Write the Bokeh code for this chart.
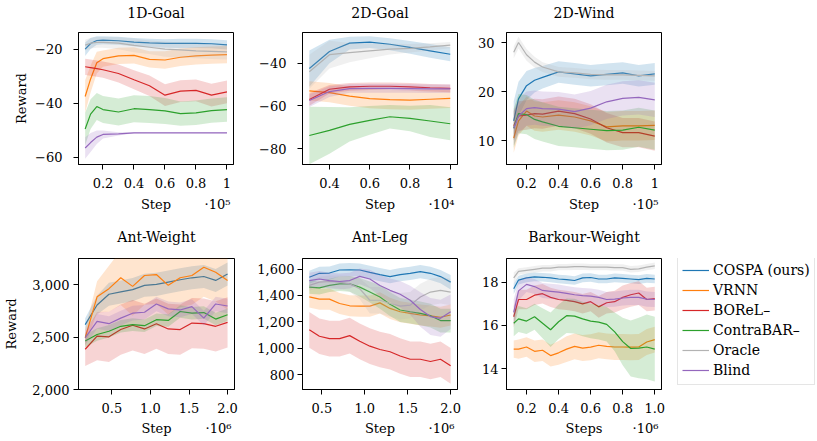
import numpy as np
from bokeh.plotting import figure
from bokeh.layouts import row, column
from bokeh.models import Range1d, FixedTicker, Legend, LegendItem, ColumnDataSource, LinearAxis
from bokeh.embed import file_html
from bokeh.resources import INLINE

FONT = "DejaVu Serif"
METHODS = ["COSPA (ours)", "VRNN", "BOReL\u2013", "ContraBAR\u2013", "Oracle", "Blind"]
COLORS = ["#1f77b4", "#ff7f0e", "#d62728", "#2ca02c", "#b3b3b3", "#9467bd"]

# ---------------- 1D-Goal (step x 1e5) ----------------
g1_x = [0.085, 0.12, 0.16, 0.2, 0.3, 0.4, 0.5, 0.6, 0.7, 0.8, 0.9, 1.0]
g1_cospa = [-20, -17.9, -16.8, -16.7, -16.9, -17.4, -17.7, -17.9, -17.9, -17.9, -18.0, -18.4]
g1_cospa_sd = [2.5, 2, 1.6, 1.5, 1.5, 1.5, 1.5, 1.6, 1.7, 1.7, 1.7, 1.7]
g1_vrnn = [-37.5, -31, -25, -23.5, -22.5, -22.3, -23.8, -24, -23, -22.5, -22.2, -22]
g1_vrnn_sd = [6, 5, 4, 3, 3, 3, 3, 3.2, 3.2, 3.2, 3.2, 3.2]
g1_borel = [-26.5, -26.8, -27.2, -27.6, -29, -31.3, -33.5, -37, -35.5, -35.2, -37, -35.8]
g1_borel_sd = [3, 3, 3, 3, 3.3, 3.5, 3.8, 4, 4, 4, 4.2, 4.2]
g1_contrabar = [-49.5, -44, -41.2, -42.3, -43.2, -42, -42.3, -42.8, -43.8, -43.5, -42.7, -42.3]
g1_contrabar_sd = [6, 5.5, 5, 5, 5, 5, 5, 4.8, 4.5, 4.5, 4.5, 4.5]
g1_oracle = [-18.5, -17.8, -17.5, -17.5, -17.8, -18.6, -19.3, -20, -20.3, -20.6, -20.8, -21]
g1_oracle_sd = [2, 2, 2, 2, 2.2, 2.5, 2.5, 2.8, 2.8, 2.8, 2.8, 2.8]
g1_blind = [-56.5, -54.5, -52.5, -51.5, -51.3, -50.9, -50.9, -50.9, -50.9, -50.9, -50.9, -50.9]
g1_blind_sd = [4, 3.5, 2.5, 1.5, 0.6, 0.2, 0.1, 0.1, 0.1, 0.1, 0.1, 0.1]

# ---------------- 2D-Goal (step x 1e4) ----------------
g2_x = [0.3, 0.4, 0.5, 0.6, 0.7, 0.8, 0.9, 1.0]
g2_cospa = [-42.5, -34.5, -30.6, -30.1, -31.1, -32.6, -34.2, -35.8]
g2_cospa_sd = [8.5, 5.5, 3, 2.8, 2.8, 3, 3.2, 3.3]
g2_vrnn = [-53, -53.8, -55.4, -56.6, -57.1, -57.3, -56.9, -56.5]
g2_vrnn_sd = [4.5, 4.5, 4.5, 4.5, 4.5, 4.5, 4.5, 4.5]
g2_borel = [-57, -52.2, -51.1, -50.8, -50.8, -51.1, -51.5, -51.8]
g2_borel_sd = [3, 2, 1.8, 1.8, 1.8, 1.8, 1.8, 1.8]
g2_contrabar = [-73.9, -71.5, -68.7, -66.8, -65.1, -65.9, -67.1, -68.4]
g2_contrabar_sd = [13.5, 11, 8, 6.7, 5.5, 6, 7.5, 7.7]
g2_oracle = [-44, -36, -35, -34.2, -33.4, -33, -32.3, -31.5]
g2_oracle_sd = [8, 6.5, 4.5, 3.5, 2.5, 2, 1.7, 1.5]
g2_blind = [-57.5, -53.3, -51.9, -51.8, -51.8, -51.9, -52, -52]
g2_blind_sd = [3, 2.5, 2, 2, 2, 2, 2, 2]

# ---------------- 2D-Wind (step x 1e5) ----------------
w_x = [0.12, 0.15, 0.2, 0.25, 0.3, 0.4, 0.5, 0.6, 0.7, 0.8, 0.9, 1.0]
w_cospa = [14, 18.5, 21.2, 22.3, 22.9, 24, 23.6, 23.2, 23.5, 23.8, 23.2, 23.6]
w_cospa_sd = [4, 3.5, 3, 2.5, 2.3, 2.2, 2.2, 2.2, 2.2, 2.2, 2.2, 2.2]
w_vrnn = [10.5, 14, 16, 15, 14.8, 15.2, 14.8, 14, 12.8, 13, 13, 13.1]
w_vrnn_sd = [3, 3, 3, 3, 3, 3, 3, 3, 3, 3, 3, 3]
w_borel = [13, 15, 15.2, 15.5, 15.4, 16, 15.5, 14.4, 12.6, 11.6, 11.6, 10.9]
w_borel_sd = [3, 3, 3, 3, 3, 3, 3, 3, 3, 3, 3, 3]
w_contrabar = [12.5, 15.5, 15.3, 14.3, 13.8, 12.9, 12.6, 12.3, 12.0, 12.1, 12.7, 12.1]
w_contrabar_sd = [4, 4, 4, 4, 4, 4, 4, 4, 4, 4, 4, 4]
w_oracle = [28, 30, 27.5, 26, 25, 24, 23.8, 23.5, 23.4, 23.4, 23.3, 23.2]
w_oracle_sd = [1.2, 1.2, 1.2, 1.1, 1, 1, 1, 1, 1, 1, 1, 1]
w_blind = [12.5, 15, 16.5, 16.7, 16.5, 16.4, 15.9, 16.6, 17.9, 18.6, 18.8, 18.3]
w_blind_sd = [3.5, 3.5, 3.5, 3.5, 3.5, 3.5, 3.5, 3.5, 3.5, 3.5, 3.5, 3.5]

# ---------------- Ant-Weight (step x 1e6) ----------------
aw_x = [0.154, 0.308, 0.462, 0.615, 0.769, 0.923, 1.077, 1.231, 1.385, 1.538, 1.692, 1.846, 2.0]
aw_cospa = [2619, 2806, 2909, 2931, 2953, 2994, 3003, 3025, 3047, 3066, 3078, 3041, 3103]
aw_cospa_sd = [60, 90, 110, 110, 110, 110, 110, 110, 110, 110, 110, 110, 110]
aw_vrnn = [2494, 2884, 2962, 3066, 2984, 3088, 3097, 2994, 3066, 3088, 3166, 3119, 3041]
aw_vrnn_sd = [80, 150, 220, 260, 280, 280, 280, 280, 280, 280, 280, 280, 280]
aw_borel = [2384, 2509, 2503, 2572, 2613, 2578, 2628, 2578, 2572, 2634, 2628, 2603, 2641]
aw_borel_sd = [160, 230, 240, 240, 240, 240, 240, 240, 240, 240, 240, 240, 240]
aw_contrabar = [2463, 2525, 2556, 2603, 2619, 2609, 2666, 2659, 2744, 2728, 2734, 2672, 2713]
aw_contrabar_sd = [60, 60, 60, 60, 60, 60, 60, 60, 60, 60, 60, 60, 60]
aw_blind = [2494, 2650, 2628, 2681, 2728, 2737, 2816, 2769, 2759, 2791, 2681, 2816, 2797]
aw_blind_sd = [70, 70, 70, 70, 70, 70, 70, 70, 70, 70, 70, 70, 70]

# ---------------- Ant-Leg (step x 1e6) ----------------
al_x = [0.353, 0.471, 0.588, 0.706, 0.824, 0.941, 1.059, 1.176, 1.294, 1.412, 1.529, 1.647, 1.765, 1.882, 2.0]
al_cospa = [1538, 1568, 1570, 1593, 1595, 1593, 1575, 1558, 1543, 1558, 1568, 1580, 1568, 1543, 1501]
al_cospa_sd = [50, 50, 50, 50, 50, 50, 50, 50, 50, 50, 50, 50, 50, 50, 55]
al_vrnn = [1389, 1372, 1372, 1339, 1322, 1319, 1319, 1344, 1302, 1277, 1265, 1252, 1245, 1235, 1252]
al_vrnn_sd = [80, 80, 80, 80, 80, 80, 80, 80, 80, 80, 80, 80, 80, 80, 80]
al_borel = [1140, 1091, 1073, 1073, 1096, 1053, 1016, 991, 974, 942, 917, 917, 900, 917, 867]
al_borel_sd = [135, 135, 135, 135, 135, 135, 135, 135, 135, 135, 135, 135, 135, 135, 135]
al_contrabar = [1463, 1458, 1476, 1488, 1488, 1463, 1426, 1389, 1334, 1290, 1277, 1265, 1247, 1210, 1210]
al_contrabar_sd = [50, 50, 50, 55, 60, 70, 80, 90, 90, 90, 90, 90, 90, 90, 90]
al_oracle = [1476, 1501, 1506, 1501, 1488, 1451, 1364, 1364, 1339, 1319, 1327, 1389, 1426, 1439, 1426]
al_oracle_sd = [40, 40, 45, 50, 60, 80, 100, 100, 100, 100, 100, 100, 100, 100, 100]
al_blind = [1513, 1525, 1513, 1506, 1513, 1545, 1525, 1476, 1439, 1409, 1364, 1294, 1240, 1227, 1277]
al_blind_sd = [60, 60, 60, 60, 60, 60, 70, 80, 90, 100, 110, 130, 140, 140, 130]

# ---------------- Barkour-Weight (steps x 1e6) ----------------
bw_x = [0.12, 0.15, 0.2, 0.25, 0.3, 0.35, 0.4, 0.45, 0.5, 0.55, 0.6, 0.65, 0.7, 0.75, 0.8, 0.85, 0.9, 0.95, 1.0]
bw_cospa = [17.7, 18.1, 18.2, 18.25, 18.23, 18.2, 18.15, 18.12, 18.08, 18.2, 18.22, 18.15, 18.15, 18.2, 18.18, 18.15, 18.12, 18.18, 18.15]
bw_cospa_sd = [0.25, 0.2, 0.2, 0.2, 0.2, 0.2, 0.2, 0.2, 0.2, 0.2, 0.2, 0.2, 0.2, 0.2, 0.2, 0.2, 0.2, 0.2, 0.2]
bw_vrnn = [14.9, 14.9, 15.0, 14.8, 14.85, 14.6, 14.73, 14.9, 15.03, 14.95, 14.99, 15.08, 15.03, 15.0, 15.0, 14.99, 15.0, 15.23, 15.34]
bw_vrnn_sd = [0.4, 0.45, 0.45, 0.5, 0.5, 0.5, 0.55, 0.6, 0.6, 0.6, 0.6, 0.6, 0.6, 0.6, 0.6, 0.6, 0.6, 0.6, 0.6]
bw_borel = [16.4, 17.2, 17.2, 17.4, 17.47, 17.3, 17.2, 17.16, 17.1, 17.0, 17.1, 16.86, 17.05, 17.1, 17.3, 17.42, 17.5, 17.2, 17.24]
bw_borel_sd = [0.5, 0.45, 0.45, 0.45, 0.45, 0.45, 0.45, 0.45, 0.45, 0.45, 0.45, 0.5, 0.5, 0.5, 0.55, 0.55, 0.55, 0.55, 0.55]
bw_contrabar = [16.1, 16.3, 16.2, 16.4, 16.1, 15.8, 16.17, 16.45, 16.43, 16.3, 16.2, 16.15, 16.05, 15.7, 15.25, 14.93, 14.95, 15.0, 14.9]
bw_contrabar_sd = [0.6, 0.6, 0.6, 0.6, 0.7, 0.8, 0.8, 0.8, 0.8, 0.8, 0.8, 0.8, 0.8, 0.9, 1.1, 1.3, 1.4, 1.5, 1.5]
bw_oracle = [18.2, 18.5, 18.55, 18.6, 18.65, 18.65, 18.7, 18.7, 18.72, 18.72, 18.7, 18.7, 18.7, 18.68, 18.68, 18.6, 18.62, 18.7, 18.76]
bw_oracle_sd = [0.25, 0.15, 0.15, 0.15, 0.15, 0.15, 0.15, 0.15, 0.15, 0.15, 0.15, 0.15, 0.15, 0.15, 0.15, 0.15, 0.15, 0.15, 0.15]
bw_blind = [16.6, 17.6, 17.9, 17.8, 17.62, 17.58, 17.54, 17.48, 17.42, 17.38, 17.36, 17.3, 17.2, 17.22, 17.27, 17.3, 17.3, 17.22, 17.2]
bw_blind_sd = [0.6, 0.45, 0.35, 0.35, 0.35, 0.35, 0.35, 0.35, 0.35, 0.35, 0.35, 0.35, 0.35, 0.35, 0.35, 0.35, 0.35, 0.35, 0.35]

# ---------------- tick labels ----------------
x_ticks_1 = [0.2, 0.4, 0.6, 0.8, 1.0]
x_labels_1 = ["0.2", "0.4", "0.6", "0.8", "1"]
x_ticks_2 = [0.4, 0.6, 0.8, 1.0]
x_labels_2 = ["0.4", "0.6", "0.8", "1"]
x_ticks_ant = [0.5, 1.0, 1.5, 2.0]
x_labels_ant = ["0.5", "1.0", "1.5", "2.0"]
x_labels_bw = ["0.2", "0.4", "0.6", "0.8", "1.0"]
y_ticks_g1 = [-60, -40, -20]
y_labels_g1 = ["\u221260", "\u221240", "\u221220"]
y_ticks_g2 = [-80, -60, -40]
y_labels_g2 = ["\u221280", "\u221260", "\u221240"]
y_ticks_w = [10, 20, 30]
y_labels_w = ["10", "20", "30"]
y_ticks_aw = [2000, 2500, 3000]
y_labels_aw = ["2,000", "2,500", "3,000"]
y_ticks_al = [800, 1000, 1200, 1400, 1600]
y_labels_al = ["800", "1,000", "1,200", "1,400", "1,600"]
y_ticks_bw = [14, 16, 18]
y_labels_bw = ["14", "16", "18"]


def style_axis(ax, standoff):
    ax.axis_line_color = "black"
    ax.major_tick_line_color = "black"
    ax.major_tick_out = 5
    ax.major_tick_in = 0
    ax.minor_tick_line_color = None
    ax.major_label_text_font = FONT
    ax.major_label_text_font_size = "13px"
    ax.major_label_text_color = "black"
    ax.major_label_standoff = standoff


def text_axis(ticks, labels, size, standoff):
    ax = LinearAxis(ticker=FixedTicker(ticks=ticks), major_label_overrides=dict(zip(ticks, labels)))
    ax.axis_line_color = None
    ax.major_tick_line_color = None
    ax.minor_tick_line_color = None
    ax.major_tick_out = 0
    ax.major_tick_in = 0
    ax.major_label_text_font = FONT
    ax.major_label_text_font_size = size
    ax.major_label_text_color = "black"
    ax.major_label_standoff = standoff
    return ax


def make_panel(title, x, means, sds, xr, yr, xt, xl, yt, yl, xlabel, expo,
               width, height, left, frame_w, right, top, bottom, ystand, title_standoff,
               lab_standoff, ylabel=None, ylab_standoff=6):
    p = figure(width=width, height=height, x_range=Range1d(*xr), y_range=Range1d(*yr),
               output_backend="svg", toolbar_location=None, title=None,
               min_border_left=left, min_border_right=right,
               min_border_top=top, min_border_bottom=bottom)
    p.grid.visible = False
    p.background_fill_color = "white"
    p.border_fill_color = "white"
    p.outline_line_color = "black"
    p.outline_line_alpha = 1.0
    p.outline_line_width = 1

    xa_main = p.below[0]
    style_axis(xa_main, 8)
    xa_main.ticker = FixedTicker(ticks=xt)
    xa_main.major_label_overrides = dict(zip(xt, xl))
    ya = p.left[0]
    style_axis(ya, ystand)
    ya.ticker = FixedTicker(ticks=yt)
    ya.major_label_overrides = dict(zip(yt, yl))
    if ylabel:
        ya.axis_label = ylabel
        ya.axis_label_text_font = FONT
        ya.axis_label_text_font_size = "13px"
        ya.axis_label_text_font_style = "normal"
        ya.axis_label_text_color = "black"
        ya.axis_label_standoff = ylab_standoff

    ppu = frame_w / (xr[1] - xr[0])
    xc = (xr[0] + xr[1]) / 2.0
    xe = xr[1] - 16.0 / ppu
    # panel title as a line-less axis above the frame
    p.add_layout(text_axis([xc], [title], "14px", title_standoff), "above")
    # axis title and scale factor as a line-less axis below the tick labels
    p.add_layout(text_axis([xc, xe], [xlabel, expo], "13px", lab_standoff), "below")

    xa = np.array(x, dtype=float)
    for m, s, c in zip(means, sds, COLORS):
        if m is None:
            continue
        m = np.array(m, dtype=float)
        s = np.array(s, dtype=float)
        src = ColumnDataSource(dict(x=xa, y=m, lo=m - s, hi=m + s))
        p.varea(x="x", y1="lo", y2="hi", source=src, fill_color=c, fill_alpha=0.2)
        p.line(x="x", y="y", source=src, line_color=c, line_width=1.2)
    return p


TOP_H, BOT_H = 225, 215

p1 = make_panel("1D-Goal", g1_x,
                [g1_cospa, g1_vrnn, g1_borel, g1_contrabar, g1_oracle, g1_blind],
                [g1_cospa_sd, g1_vrnn_sd, g1_borel_sd, g1_contrabar_sd, g1_oracle_sd, g1_blind_sd],
                (0.042, 1.042), (-62.6, -13.85), x_ticks_1, x_labels_1, y_ticks_g1, y_labels_g1,
                "Step", "\u00b710\u2075", 248, TOP_H, 78, 155, 15, 32, 61, 11, 12, 6, "Reward", 3)
p2 = make_panel("2D-Goal", g2_x,
                [g2_cospa, g2_vrnn, g2_borel, g2_contrabar, g2_oracle, g2_blind],
                [g2_cospa_sd, g2_vrnn_sd, g2_borel_sd, g2_contrabar_sd, g2_oracle_sd, g2_blind_sd],
                (0.266, 1.036), (-87.5, -25.6), x_ticks_2, x_labels_2, y_ticks_g2, y_labels_g2,
                "Step", "\u00b710\u2074", 220, TOP_H, 54, 155, 11, 32, 61, 11, 12, 6)
p3 = make_panel("2D-Wind", w_x,
                [w_cospa, w_vrnn, w_borel, w_contrabar, w_oracle, w_blind],
                [w_cospa_sd, w_vrnn_sd, w_borel_sd, w_contrabar_sd, w_oracle_sd, w_blind_sd],
                (0.075, 1.042), (5.1, 32.05), x_ticks_1, x_labels_1, y_ticks_w, y_labels_w,
                "Step", "\u00b710\u2075", 210, TOP_H, 38, 155, 17, 32, 61, 7, 12, 6)
p4 = make_panel("Ant-Weight", aw_x,
                [aw_cospa, aw_vrnn, aw_borel, aw_contrabar, None, aw_blind],
                [aw_cospa_sd, aw_vrnn_sd, aw_borel_sd, aw_contrabar_sd, None, aw_blind_sd],
                (0.067, 2.09), (2000, 3250), x_ticks_ant, x_labels_ant, y_ticks_aw, y_labels_aw,
                "Step", "\u00b710\u2076", 248, BOT_H, 78, 156, 14, 31, 51, 4, 14, 5, "Reward", 10)
p5 = make_panel("Ant-Leg", al_x,
                [al_cospa, al_vrnn, al_borel, al_contrabar, al_oracle, al_blind],
                [al_cospa_sd, al_vrnn_sd, al_borel_sd, al_contrabar_sd, al_oracle_sd, al_blind_sd],
                (0.274, 2.08), (688, 1680), x_ticks_ant, x_labels_ant, y_ticks_al, y_labels_al,
                "Step", "\u00b710\u2076", 220, BOT_H, 54, 155, 11, 31, 51, 3, 14, 5)
p6 = make_panel("Barkour-Weight", bw_x,
                [bw_cospa, bw_vrnn, bw_borel, bw_contrabar, bw_oracle, bw_blind],
                [bw_cospa_sd, bw_vrnn_sd, bw_borel_sd, bw_contrabar_sd, bw_oracle_sd, bw_blind_sd],
                (0.075, 1.042), (13.03, 19.1), x_ticks_1, x_labels_bw, y_ticks_bw, y_labels_bw,
                "Steps", "\u00b710\u2076", 209, BOT_H, 38, 155, 16, 31, 51, 3, 14, 5)

# legend panel: proxy lines carry the Barkour-Weight data but lie outside this empty view
pl = figure(width=139, height=BOT_H, output_backend="svg", toolbar_location=None,
            x_axis_type=None, y_axis_type=None, x_range=Range1d(0, 1), y_range=Range1d(100, 101),
            min_border_left=0, min_border_right=0, min_border_top=0, min_border_bottom=0)
pl.grid.visible = False
pl.outline_line_color = None
pl.background_fill_color = "white"
pl.border_fill_color = "white"
items = []
for name, c, ys in zip(METHODS, COLORS, [bw_cospa, bw_vrnn, bw_borel, bw_contrabar, bw_oracle, bw_blind]):
    r = pl.line(x=bw_x, y=ys, line_color=c, line_width=1.2)
    items.append(LegendItem(label=name, renderers=[r]))
leg = Legend(items=items, location=(0, 4), margin=0, padding=4, spacing=0,
             glyph_width=27, glyph_height=20, label_height=20, label_standoff=4,
             label_text_font=FONT, label_text_font_size="14px", label_text_color="black",
             border_line_color="#cccccc", border_line_width=1, background_fill_alpha=1.0)
pl.add_layout(leg, "center")

layout = column(row(p1, p2, p3), row(p4, p5, p6, pl))
open("out.html", "w").write(file_html(layout, INLINE))
